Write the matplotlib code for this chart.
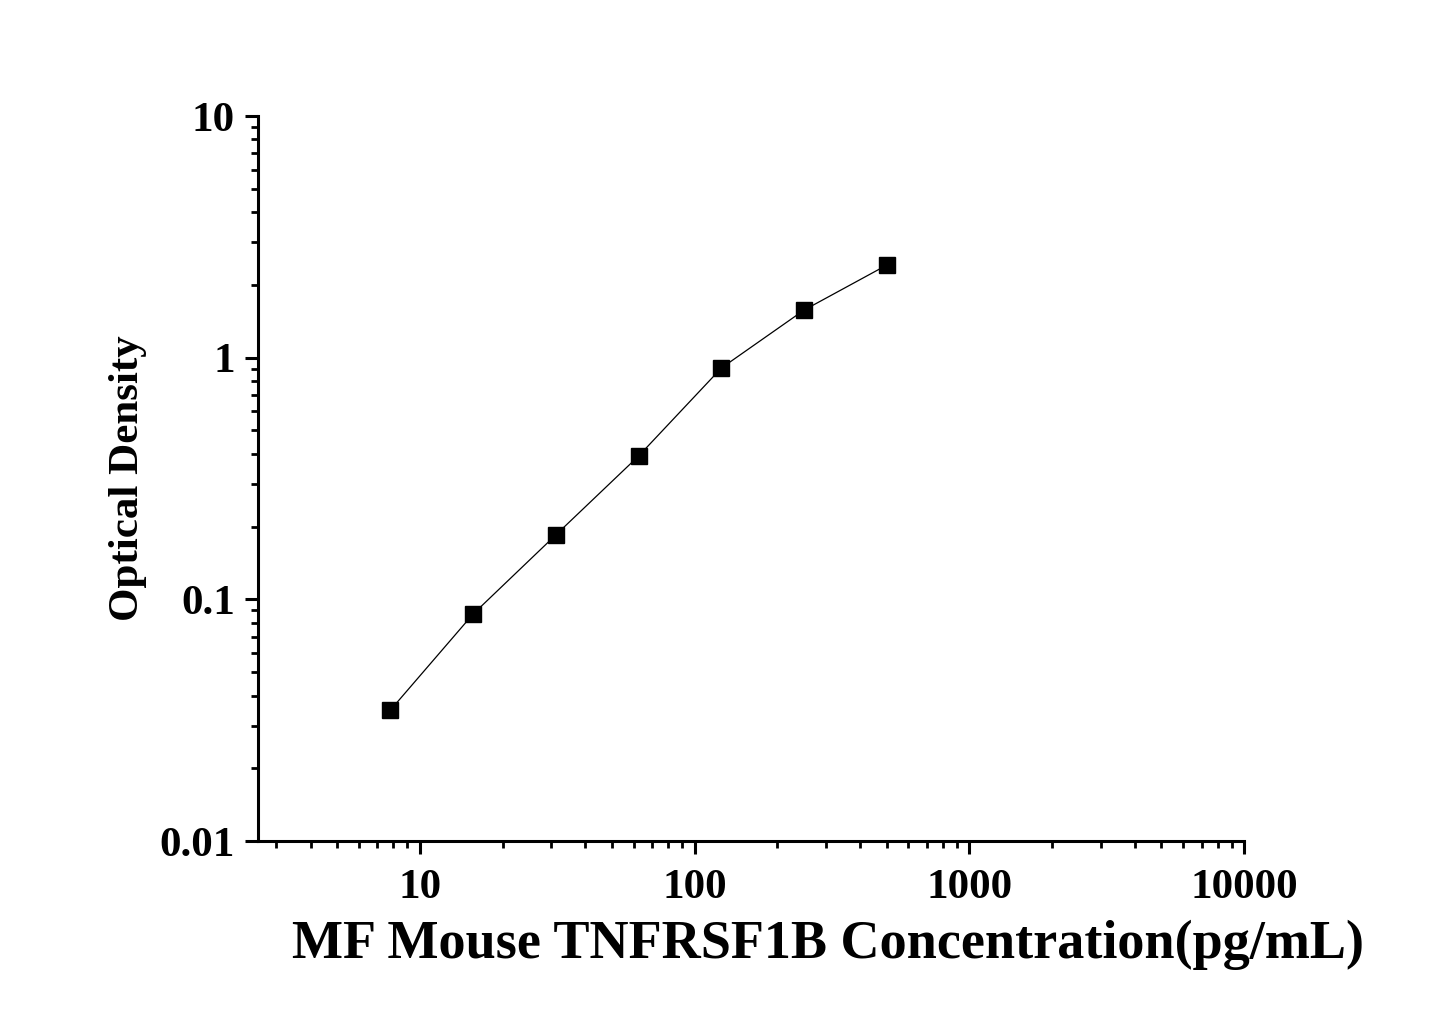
import matplotlib
matplotlib.use("Agg")
import matplotlib.pyplot as plt
from matplotlib.ticker import LogLocator, FixedLocator, NullFormatter

# standard curve readings
conc = [7.8, 15.6, 31.25, 62.5, 125, 250, 500]
od = [0.0348, 0.0869, 0.185, 0.392, 0.906, 1.574, 2.416]

x_ticks = [10, 100, 1000, 10000]
x_tick_labels = ["10", "100", "1000", "10000"]
y_ticks = [0.01, 0.1, 1, 10]
y_tick_labels = ["0.01", "0.1", "1", "10"]

plt.rcParams['font.family'] = ['Liberation Serif', 'DejaVu Serif']
plt.rcParams['font.weight'] = 'bold'

fig = plt.figure(figsize=(14.45, 10.09), dpi=100)
ax = fig.add_axes([0.1785, 0.1665, 0.6825, 0.7185])

ax.plot(conc, od, color='black', linewidth=0.9, marker='s', markersize=11,
        markerfacecolor='black', markeredgecolor='black')

ax.set_xscale('log')
ax.set_yscale('log')
ax.set_xlim(2.57, 10000)
ax.set_ylim(0.01, 10)

ax.xaxis.set_major_locator(FixedLocator(x_ticks))
ax.set_xticklabels(x_tick_labels)
ax.yaxis.set_major_locator(FixedLocator(y_ticks))
ax.set_yticklabels(y_tick_labels)
ax.xaxis.set_minor_locator(LogLocator(base=10, subs=range(2, 10), numticks=20))
ax.yaxis.set_minor_locator(LogLocator(base=10, subs=range(2, 10), numticks=20))
ax.xaxis.set_minor_formatter(NullFormatter())
ax.yaxis.set_minor_formatter(NullFormatter())

for side in ['top', 'right']:
    ax.spines[side].set_visible(False)
for side in ['left', 'bottom']:
    ax.spines[side].set_linewidth(2.2)

ax.tick_params(which='major', direction='out', length=9.5, width=2.2,
               labelsize=31)
ax.tick_params(axis='x', which='major', pad=11)
ax.tick_params(axis='y', which='major', pad=7)
ax.tick_params(which='minor', direction='out', length=5, width=2.0)
for lbl in ax.get_xticklabels() + ax.get_yticklabels():
    lbl.set_fontweight('bold')

ax.set_xlabel("MF Mouse TNFRSF1B Concentration(pg/mL)", fontsize=39,
              fontweight='bold')
ax.xaxis.set_label_coords(0.578, -0.108)
ax.set_ylabel("Optical Density", fontsize=31, fontweight='bold')
ax.yaxis.set_label_coords(-0.112, 0.5)

fig.savefig("out.png", dpi=100, facecolor='white')
